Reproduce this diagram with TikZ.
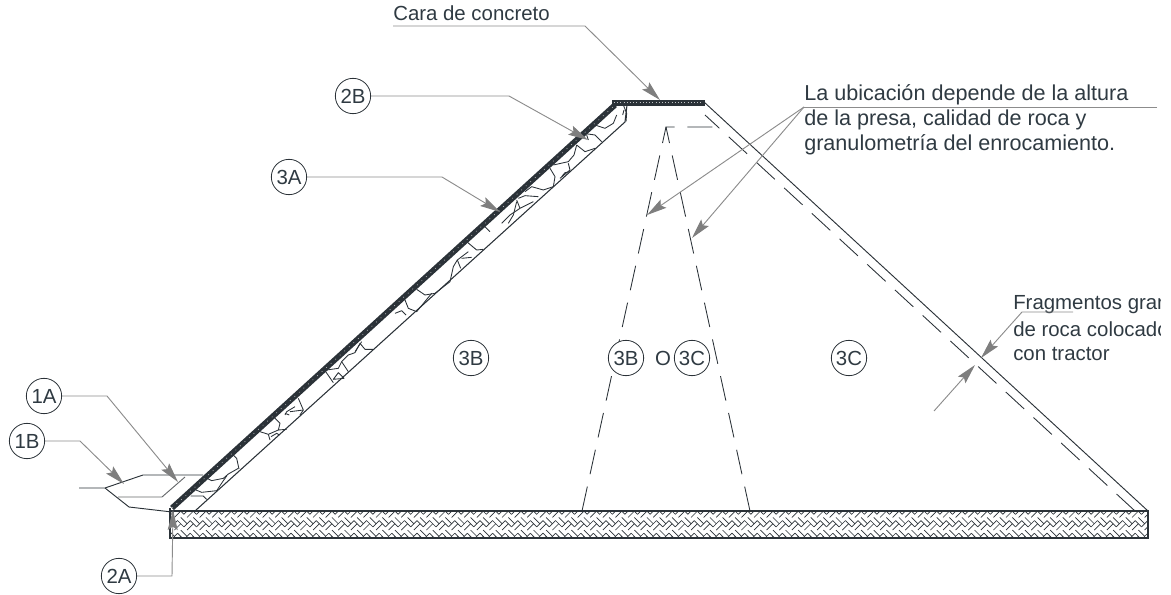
\documentclass[tikz,border=0pt]{standalone}
\usepackage{fontspec}
\setmainfont{Liberation Sans}
\usetikzlibrary{arrows.meta}
\definecolor{ink}{HTML}{2B3238}
\definecolor{lead}{HTML}{8C8C8C}
\definecolor{txt}{HTML}{2F3A42}
\tikzset{
  x=.75pt,y=-.75pt,
  tag/.style={draw=ink,fill=white,circle,line width=.6pt,inner sep=0pt,minimum size=26.5pt,text=txt,font=\fontsize{15.3}{15}\selectfont},
  bare/.style={text=txt,font=\fontsize{15.3}{15}\selectfont,inner sep=0pt},
  label/.style={bare,anchor=base west},
  wide label/.style={label,font=\fontsize{16.2}{16}\selectfont},
  leader/.style={draw=lead,line width=.7pt},
  arrowed/.style={leader,-{Stealth[length=15pt,width=7.5pt,inset=2.5pt,color=lead!90!black,fill=lead!90!black]}},
  thin line/.style={draw=ink,line width=.7pt},
  zone/.style={draw=ink,line width=.8pt},
  dashline/.style={draw=ink,line width=.65pt,dash pattern=on 18.75pt off 9.5pt},
  rock/.style={draw=ink,line width=.65pt,line join=round},
  hatch/.style={draw=ink,line width=.5pt,line cap=butt},
  zoomA/.style={shift={(170,400)},x=.25pt,y=-.25pt},
  zoomB/.style={shift={(270,300)},x=.25pt,y=-.25pt},
  zoomC/.style={shift={(370,200)},x=.25pt,y=-.25pt},
  zoomD/.style={shift={(470,100)},x=.25pt,y=-.25pt},
}
\begin{document}
\begin{tikzpicture}
\useasboundingbox (0,0) rectangle (1171,595);
% foundation hatch
\begin{scope}
\clip (170,511) rectangle (1148,538);
\def\s{6.3}
\foreach \r in {-1,...,3}{
  \foreach \n in {-2,...,79}{
    \begin{scope}[shift={({165+2*\s*\n},{508+2*\s*\r})}]
    \foreach \t in {0,.5}{
      \draw[hatch] ({\t*\s},{-\t*\s}) -- ({(1+\t)*\s},{(1-\t)*\s});
      \draw[hatch] ({(1+\t)*\s},{(1+\t)*\s}) -- ({(2+\t)*\s},{\t*\s});
    }
    \end{scope}
  }
}
\end{scope}
\draw[draw=ink,line width=.95pt] (170,511) rectangle (1148,538);
% dam outline
\draw[zone] (195,511) -- (625,122) -- (627,105);
\draw[thin line] (704,102) -- (1148,511);
\draw[dashline] (1135,511) -- (705,115);
\draw[dashline] (582,511) -- (666,127);
\draw[dashline] (750,511) -- (666,127) -- (720,127);
% rocks
\begin{scope}[zoomA]
\draw[rock] (78,270)--(95,277)--(140,272)--(158,245)--(170,228);
\draw[rock] (62,288)--(100,288)--(110,298);
\draw[rock] (105,232)--(125,242)--(160,235)--(175,222)--(205,205);
\draw[rock] (180,155)--(200,175)--(207,207);
\draw[rock] (270,95)--(295,103)--(325,90)--(330,70)--(315,55);
\draw[rock] (295,103)--(300,120);
\draw[rock] (325,90)--(350,88);
\draw[rock] (345,40)--(358,45);
\draw[rock] (303,110)--(320,100)--(328,105);
\end{scope}
\begin{scope}[zoomB]
\draw[rock] (85,295)--(100,330)--(90,345);
\draw[rock] (75,320)--(50,335)--(45,345);
\draw[rock] (100,330)--(60,335);
\draw[rock] (165,212)--(190,248);
\draw[rock] (170,210)--(205,205)--(215,185)--(235,165);
\draw[rock] (215,185)--(235,215);
\draw[rock] (190,238)--(205,218)--(222,235)--cycle;
\draw[rock] (235,165)--(255,158)--(270,130)--(285,148)--(310,148);
\draw[rock] (255,155)--(275,125);
\end{scope}
\begin{scope}[zoomC]
\draw[rock] (75,340)--(95,332)--(108,345);
\draw[rock] (105,300)--(115,325)--(140,335)--(185,280);
\draw[rock] (140,268)--(165,285)--(195,280)--(240,245)--(250,200)--(262,180)--(295,155);
\draw[rock] (262,180)--(272,205);
\draw[rock] (275,175)--(305,172);
\draw[rock] (290,125)--(320,150)--(340,148);
\draw[rock] (345,80)--(360,95);
\end{scope}
\begin{scope}[zoomD]
\draw[rock] (460,15)--(470,40)--(468,65);
\draw[rock] (458,45)--(462,30);
\draw[rock] (375,75)--(405,85)--(430,70)--(440,45);
\draw[rock] (340,100)--(375,105)--(395,125);
\draw[rock] (350,105)--(355,120);
\draw[rock] (320,135)--(345,155)--(375,145);
\draw[rock] (320,135)--(312,165)--(295,185)--(250,195);
\draw[rock] (295,190)--(300,210)--(270,235);
\draw[rock] (300,215)--(285,218)--(275,230);
\draw[rock] (240,205)--(255,230)--(250,260)--(220,270)--(185,260)--(165,275);
\draw[rock] (145,295)--(165,287)--(205,290);
\draw[rock] (140,300)--(150,325)--(190,305);
\draw[rock] (150,325)--(120,345)--(95,370);
\draw[rock] (140,305)--(130,345)--(115,370);
\end{scope}
% upstream protection
\draw[thin line] (79,488) -- (105,488) -- (143,475) -- (203,475);
\draw[thin line] (105,488) -- (129,507) -- (172,512);
\draw[draw=lead!60!ink,line width=.7pt] (118,497) -- (162,497) -- (185,477);
% concrete face
\draw[draw=ink,line width=4.2pt,line cap=butt] (172,508) -- (615,105);
\draw[draw=white!70!ink,line width=.5pt,dash pattern=on .6pt off 4pt] (172,508) -- (615,105);
\draw[draw=ink,fill=ink,line width=.2pt] (612,100) rectangle (704,105);
\draw[draw=white!70!ink,line width=.7pt,dash pattern=on .8pt off 1.6pt] (614,102.5) -- (702,102.5);
\draw[draw=ink,line width=.9pt] (170,508) -- (170,538);
% tags
\node[tag] (t1a) at (44,396) {1A};
\node[tag] (t1b) at (27,441) {1B};
\node[tag] (t2a) at (119,576) {2A};
\node[tag] (t2b) at (353,96) {2B};
\node[tag] (t3a) at (289,177) {3A};
\node[tag] (t3b) at (471,358) {3B};
\node[tag] (t3bb) at (626,358) {3B};
\node[bare] (or) at (663,358) {O};
\node[tag] (t3cb) at (692,358) {3C};
\node[tag] (t3c) at (849,358) {3C};
% texts
\node[label] (cara) at (393,21) {Cara de concreto};
\node[wide label] (ub1) at (804,101) {La ubicación depende de la altura};
\node[wide label] (ub2) at (804,126) {de la presa, calidad de roca y};
\node[wide label] (ub3) at (804,151) {granulometría del enrocamiento.};
\begin{scope}
\clip (1000,290) rectangle (1160,370);
\node[label] (fr1) at (1013,310) {Fragmentos gran};
\node[label] (fr2) at (1013,336) {de roca colocado};
\end{scope}
\node[label] (fr3) at (1013,360) {con tractor};
% anchors
\coordinate (c1a) at (107,396); \coordinate (e1a) at (178,482);
\coordinate (c1b) at (80,441);  \coordinate (e1b) at (124,484);
\coordinate (c2a) at (172,576); \coordinate (e2a) at (173,510);
\coordinate (c2b) at (509,96);  \coordinate (e2b) at (588,140);
\coordinate (c3a) at (442,177); \coordinate (e3a) at (500,212);
\coordinate (c0) at (393,26);   \coordinate (c1) at (585,26); \coordinate (e0) at (660,100);
\coordinate (u0) at (804,107);  \coordinate (u1) at (1157,107);
\coordinate (eu1) at (647,215); \coordinate (eu2) at (692,238);
\coordinate (f0) at (1073,312); \coordinate (f1) at (1022,312); \coordinate (ef) at (981,358);
\coordinate (g0) at (934,411);  \coordinate (eg) at (975,365);
% leaders
\draw[arrowed] (t1a.east) -- (c1a) -- (e1a);
\draw[arrowed] (t1b.east) -- (c1b) -- (e1b);
\draw[arrowed] (t2a.east) -- (c2a) -- (e2a);
\draw[arrowed] (t2b.east) -- (c2b) -- (e2b);
\draw[arrowed] (t3a.east) -- (c3a) -- (e3a);
\draw[arrowed] (c0) -- (c1) -- (e0);
\draw[leader] (u1) -- (u0);
\draw[arrowed] (u0) -- (eu1);
\draw[arrowed] (u0) -- (eu2);
\draw[arrowed] (f0) -- (f1) -- (ef);
\draw[arrowed] (g0) -- (eg);
\end{tikzpicture}
\end{document}
